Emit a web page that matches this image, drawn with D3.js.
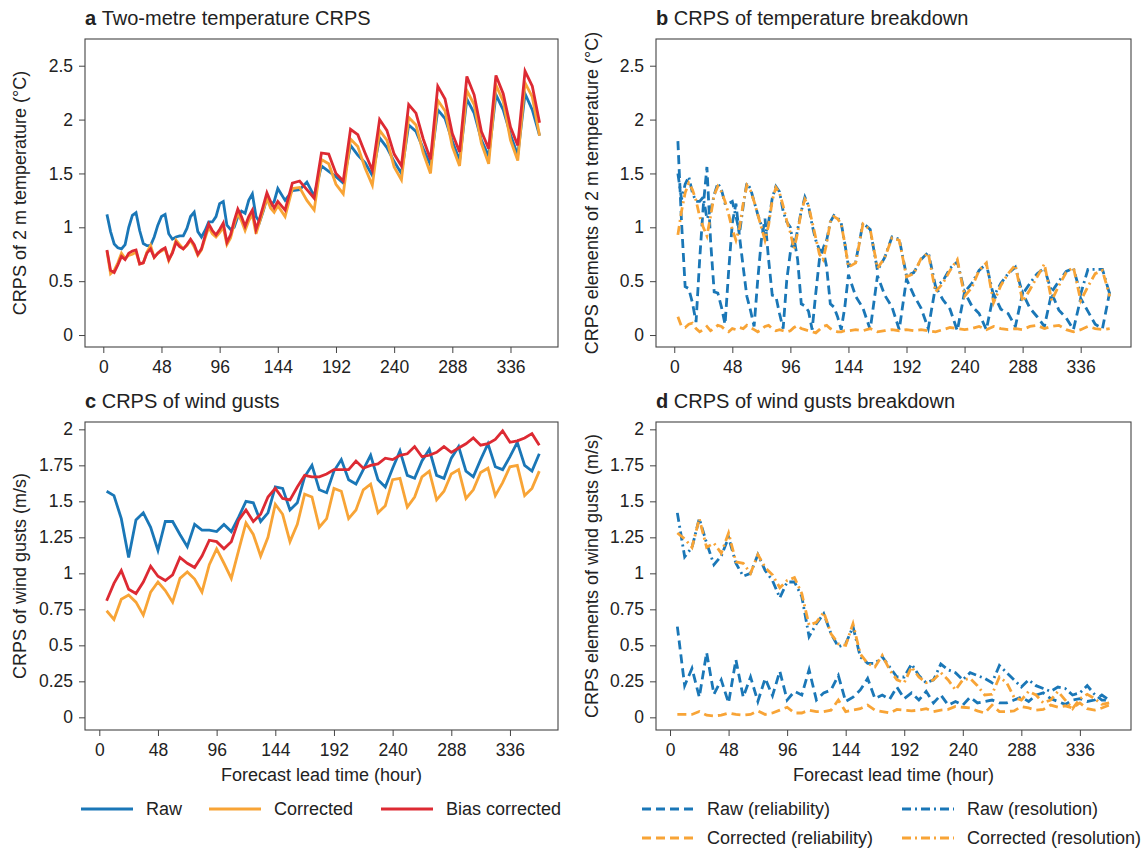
<!DOCTYPE html>
<html>
<head>
<meta charset="utf-8">
<script src="https://cdn.jsdelivr.net/npm/d3@7"></script>
<style>
  body { margin: 0; background: #fff; }
  text { font-family: "Liberation Sans", Arial, sans-serif; fill: #222; }
</style>
</head>
<body>
<svg id="chart" width="1148" height="852"></svg>
<script>

// lead times: 3-hourly up to 144 h, 6-hourly after (temperature); 6-hourly for gusts
var tempHours = [3,6,9,12,15,18,21,24,27,30,33,36,39,42,45,48,51,54,57,60,63,66,69,72,75,78,81,84,87,90,93,96,99,102,105,108,111,114,117,120,123,126,129,132,135,138,141,144,
  150,156,162,168,174,180,186,192,198,204,210,216,222,228,234,240,246,252,258,264,270,276,282,288,294,300,306,312,318,324,330,336,342,348,354,360];
var gustHours = [6,12,18,24,30,36,42,48,54,60,66,72,78,84,90,96,102,108,114,120,126,132,138,144,150,156,162,168,174,180,
  186,192,198,204,210,216,222,228,234,240,246,252,258,264,270,276,282,288,294,300,306,312,318,324,330,336,342,348,354,360];

var hourTicks = [0, 48, 96, 144, 192, 240, 288, 336];
var tempTicks = [0, 0.5, 1, 1.5, 2, 2.5];
var gustTicks = [0, 0.25, 0.5, 0.75, 1, 1.25, 1.5, 1.75, 2];

// a: 2 m temperature CRPS
var tempRaw = [1.12,0.96,0.845,0.81,0.80,0.84,1.00,1.11,1.135,0.97,0.85,0.83,0.83,0.91,1.02,1.10,1.12,0.94,0.89,0.91,0.92,0.92,0.99,1.10,
  1.14,0.96,0.91,0.97,1.05,1.05,1.10,1.22,1.24,1.02,0.98,1.00,1.10,1.15,1.13,1.25,1.31,1.10,1.05,1.15,1.27,1.20,1.24,1.36,
  1.25,1.34,1.35,1.42,1.29,1.57,1.52,1.47,1.41,1.76,1.67,1.60,1.48,1.83,1.74,1.61,1.50,1.95,1.89,1.73,1.58,2.09,2.01,1.80,1.62,
  2.19,2.06,1.81,1.66,2.23,2.09,1.86,1.67,2.24,2.09,1.85];
var tempCorrected = [0.78,0.57,0.60,0.67,0.76,0.71,0.74,0.75,0.77,0.66,0.67,0.77,0.83,0.72,0.76,0.78,0.80,0.69,0.77,0.88,0.84,0.80,0.83,0.88,
  0.82,0.74,0.79,0.90,1.00,0.94,0.91,0.95,1.00,0.84,0.90,1.03,1.13,1.06,0.97,1.06,1.12,0.94,1.05,1.16,1.27,1.18,1.14,1.20,
  1.10,1.36,1.37,1.25,1.16,1.63,1.59,1.40,1.31,1.82,1.75,1.55,1.39,1.90,1.81,1.56,1.44,2.02,1.95,1.69,1.50,2.18,2.08,1.75,1.57,
  2.27,2.14,1.78,1.59,2.32,2.17,1.81,1.62,2.34,2.21,1.85];
var tempBias = [0.79,0.60,0.58,0.65,0.73,0.70,0.76,0.78,0.79,0.66,0.67,0.76,0.80,0.72,0.76,0.79,0.81,0.70,0.76,0.86,0.82,0.80,0.84,0.89,
  0.84,0.75,0.80,0.92,1.03,0.97,0.93,0.98,1.04,0.86,0.93,1.06,1.17,1.10,1.01,1.10,1.16,0.98,1.08,1.20,1.32,1.24,1.18,1.24,
  1.16,1.41,1.43,1.35,1.27,1.69,1.68,1.50,1.43,1.91,1.86,1.69,1.53,2.00,1.90,1.68,1.57,2.14,2.06,1.82,1.63,2.31,2.19,1.87,1.70,
  2.40,2.23,1.89,1.73,2.41,2.24,1.93,1.76,2.45,2.31,1.97];

// b: temperature CRPS breakdown
var tempRawRel = [1.80,1.05,0.45,0.43,0.30,0.12,0.70,1.20,1.56,0.88,0.40,0.39,0.26,0.10,0.60,1.04,1.22,0.91,0.63,0.36,0.23,0.08,0.51,0.88,
  1.08,0.70,0.37,0.36,0.20,0.06,0.51,0.77,0.90,0.70,0.29,0.27,0.22,0.05,0.39,0.70,0.80,0.63,0.29,0.26,0.17,0.05,0.26,0.56,
  0.36,0.25,0.05,0.55,0.37,0.26,0.05,0.52,0.37,0.25,0.06,0.45,0.33,0.24,0.04,0.40,0.27,0.20,0.05,0.38,0.24,0.20,0.08,0.39,0.25,
  0.17,0.08,0.39,0.23,0.16,0.05,0.34,0.22,0.10,0.06,0.40];
var tempRawRes = [1.50,1.26,1.40,1.47,1.32,1.24,1.24,1.28,1.08,1.15,1.30,1.41,1.35,1.22,1.22,1.24,1.10,0.95,1.20,1.41,1.36,1.24,1.12,1.02,
  0.92,1.05,1.27,1.38,1.33,1.15,1.05,1.00,0.80,0.98,1.15,1.28,1.20,1.02,0.88,0.79,0.78,0.88,1.05,1.11,1.09,1.04,0.85,0.64,
  0.68,1.04,0.98,0.60,0.72,0.91,0.89,0.55,0.58,0.70,0.77,0.45,0.50,0.62,0.68,0.40,0.48,0.60,0.66,0.36,0.48,0.57,0.63,0.38,0.48,
  0.57,0.62,0.40,0.50,0.59,0.62,0.38,0.61,0.61,0.61,0.38];
var tempCorRel = [0.17,0.08,0.07,0.10,0.11,0.06,0.03,0.05,0.08,0.04,0.06,0.09,0.08,0.05,0.03,0.06,0.05,0.07,0.06,0.09,0.07,0.05,0.03,0.05,
  0.08,0.09,0.06,0.04,0.05,0.04,0.03,0.04,0.07,0.09,0.06,0.05,0.04,0.03,0.02,0.05,0.08,0.09,0.06,0.04,0.03,0.03,0.04,0.04,
  0.05,0.04,0.06,0.03,0.04,0.05,0.04,0.05,0.04,0.05,0.04,0.03,0.05,0.07,0.06,0.05,0.06,0.08,0.05,0.08,0.06,0.05,0.06,0.05,0.08,
  0.09,0.06,0.08,0.09,0.05,0.03,0.05,0.08,0.06,0.05,0.06];
var tempCorRes = [0.93,1.15,1.32,1.41,1.35,1.25,1.10,1.00,0.92,1.10,1.30,1.38,1.33,1.24,1.12,0.98,0.88,1.00,1.22,1.39,1.34,1.24,1.12,1.00,
  0.88,1.02,1.25,1.37,1.32,1.20,1.06,0.95,0.80,0.95,1.15,1.26,1.20,1.05,0.90,0.75,0.70,0.85,1.05,1.10,1.08,1.03,0.85,0.63,
  0.67,1.03,0.98,0.62,0.72,0.90,0.88,0.54,0.57,0.71,0.76,0.40,0.48,0.60,0.70,0.36,0.44,0.60,0.67,0.30,0.46,0.57,0.65,0.31,0.42,
  0.54,0.66,0.32,0.46,0.58,0.63,0.32,0.45,0.57,0.60,0.36];

// c: wind gust CRPS
var gustRaw = [1.57,1.54,1.38,1.11,1.37,1.42,1.32,1.16,1.36,1.36,1.27,1.185,1.34,1.30,1.30,1.29,1.34,1.29,1.39,1.50,
  1.49,1.36,1.42,1.60,1.59,1.44,1.49,1.67,1.75,1.58,1.56,1.71,1.79,1.65,1.62,1.72,1.82,1.65,1.60,1.73,
  1.85,1.68,1.66,1.78,1.86,1.68,1.66,1.80,1.88,1.71,1.67,1.79,1.90,1.74,1.72,1.81,1.91,1.75,1.71,1.83];
var gustCorrected = [0.74,0.68,0.82,0.85,0.80,0.71,0.87,0.94,0.88,0.80,0.965,1.01,0.96,0.87,1.06,1.17,1.07,0.965,1.16,1.35,
  1.27,1.12,1.25,1.48,1.41,1.22,1.34,1.55,1.53,1.32,1.38,1.59,1.57,1.38,1.44,1.58,1.62,1.42,1.47,1.65,
  1.66,1.46,1.53,1.67,1.71,1.51,1.57,1.69,1.72,1.52,1.58,1.70,1.73,1.54,1.63,1.74,1.75,1.54,1.59,1.71];
var gustBias = [0.81,0.93,1.02,0.89,0.86,0.94,1.05,0.98,0.95,0.99,1.11,1.07,1.04,1.12,1.23,1.22,1.17,1.22,1.37,1.44,
  1.36,1.41,1.53,1.59,1.52,1.51,1.60,1.68,1.67,1.67,1.69,1.72,1.72,1.72,1.78,1.73,1.75,1.76,1.80,1.79,
  1.82,1.83,1.88,1.81,1.82,1.84,1.88,1.84,1.87,1.90,1.94,1.89,1.90,1.93,1.99,1.91,1.92,1.94,1.97,1.89];

// d: wind gust CRPS breakdown
var gustRawRel = [0.63,0.22,0.34,0.14,0.45,0.16,0.26,0.10,0.40,0.14,0.28,0.11,0.27,0.15,0.32,0.12,0.18,0.155,0.33,0.12,
  0.17,0.19,0.29,0.11,0.14,0.19,0.27,0.13,0.155,0.125,0.21,0.13,0.17,0.12,0.18,0.10,0.155,0.085,0.11,0.085,
  0.14,0.10,0.11,0.12,0.10,0.10,0.12,0.14,0.11,0.155,0.17,0.13,0.11,0.09,0.12,0.13,0.11,0.12,0.155,0.12];
var gustRawRes = [1.42,1.115,1.18,1.38,1.21,1.06,1.12,1.25,1.07,0.98,1.00,1.13,1.02,0.95,0.83,0.94,0.94,0.84,0.56,0.65,
  0.72,0.58,0.49,0.51,0.63,0.42,0.375,0.375,0.42,0.35,0.28,0.28,0.37,0.29,0.24,0.26,0.37,0.33,0.31,0.26,
  0.31,0.29,0.27,0.24,0.36,0.31,0.26,0.21,0.26,0.22,0.20,0.18,0.21,0.20,0.155,0.17,0.22,0.16,0.12,0.12];
var gustCorRel = [0.02,0.02,0.02,0.04,0.015,0.01,0.015,0.03,0.02,0.015,0.02,0.045,0.02,0.03,0.05,0.07,0.03,0.03,0.05,0.04,
  0.04,0.05,0.12,0.04,0.05,0.06,0.085,0.05,0.04,0.03,0.055,0.05,0.045,0.05,0.06,0.04,0.05,0.055,0.075,0.07,
  0.065,0.045,0.03,0.085,0.04,0.04,0.045,0.075,0.065,0.05,0.055,0.085,0.07,0.08,0.065,0.10,0.06,0.05,0.065,0.085];
var gustCorRes = [1.28,1.24,1.18,1.38,1.18,1.21,1.14,1.28,1.08,1.07,1.00,1.13,1.04,0.99,0.90,0.95,0.97,0.86,0.64,0.66,
  0.73,0.58,0.51,0.50,0.65,0.44,0.375,0.35,0.43,0.33,0.26,0.24,0.35,0.28,0.24,0.26,0.31,0.26,0.19,0.26,
  0.27,0.22,0.155,0.16,0.28,0.24,0.14,0.12,0.18,0.155,0.10,0.12,0.18,0.12,0.06,0.13,0.16,0.13,0.09,0.10];

var blue = "#1a77b7", orange = "#f8a436", red = "#dd2a33";
var dashed = "9,5", dashDot = "9,4,2,4";

var svg = d3.select("#chart");

var panels = [
  {letter: "a", title: "Two-metre temperature CRPS", box: [85, 39, 558, 347], xdom: [-15.1, 375.2], ydom: [-0.111, 2.748],
   yticks: tempTicks, ylabel: "CRPS of 2 m temperature (\u00b0C)", labelX: 20, hours: tempHours,
   series: [{v: tempRaw, c: blue}, {v: tempCorrected, c: orange}, {v: tempBias, c: red}]},
  {letter: "b", title: "CRPS of temperature breakdown", box: [656, 39, 1131, 347], xdom: [-15.1, 377.6], ydom: [-0.111, 2.748],
   yticks: tempTicks, ylabel: "CRPS elements of 2 m temperature (\u00b0C)", labelX: 592, hours: tempHours,
   series: [{v: tempRawRel, c: blue, d: dashed}, {v: tempRawRes, c: blue, d: dashDot},
            {v: tempCorRel, c: orange, d: dashed}, {v: tempCorRes, c: orange, d: dashDot}]},
  {letter: "c", title: "CRPS of wind gusts", box: [85, 422, 558, 730], xdom: [-11.7, 375.3], ydom: [-0.088, 2.051],
   yticks: gustTicks, ylabel: "CRPS of wind gusts (m/s)", labelX: 20, hours: gustHours, xlabel: true,
   series: [{v: gustRaw, c: blue}, {v: gustCorrected, c: orange}, {v: gustBias, c: red}]},
  {letter: "d", title: "CRPS of wind gusts breakdown", box: [656, 422, 1131, 730], xdom: [-11.5, 377.9], ydom: [-0.088, 2.051],
   yticks: gustTicks, ylabel: "CRPS elements of wind gusts (m/s)", labelX: 592, hours: gustHours, xlabel: true,
   series: [{v: gustRawRel, c: blue, d: dashed}, {v: gustRawRes, c: blue, d: dashDot},
            {v: gustCorRel, c: orange, d: dashed}, {v: gustCorRes, c: orange, d: dashDot}]}
];

panels.forEach(drawPanel);

function styleAxis(g) {
  g.select(".domain").remove();
  g.selectAll(".tick line").attr("stroke", "#444");
  g.selectAll(".tick text").attr("font-size", "17.5px").attr("fill", "#222");
}

function drawPanel(p) {
  var x = d3.scaleLinear().domain(p.xdom).range([p.box[0], p.box[2]]);
  var y = d3.scaleLinear().domain(p.ydom).range([p.box[3], p.box[1]]);
  var g = svg.append("g");

  g.append("g")
    .attr("transform", `translate(0,${p.box[3]})`)
    .call(d3.axisBottom(x).tickValues(hourTicks).tickSize(6).tickPadding(8).tickFormat(d3.format("d")))
    .call(styleAxis);

  g.append("g")
    .attr("transform", `translate(${p.box[0]},0)`)
    .call(d3.axisLeft(y).tickValues(p.yticks).tickSize(6).tickPadding(6).tickFormat(d => String(d)))
    .call(styleAxis);

  var line = d3.line()
    .x((d, i) => x(p.hours[i]))
    .y(d => y(d));

  g.selectAll("path.series")
    .data(p.series)
    .enter().append("path")
    .attr("class", "series")
    .attr("fill", "none")
    .attr("stroke", s => s.c)
    .attr("stroke-width", 2.8)
    .attr("stroke-dasharray", s => s.d || null)
    .attr("d", s => line(s.v));

  g.append("rect")
    .attr("x", p.box[0]).attr("y", p.box[1])
    .attr("width", p.box[2] - p.box[0]).attr("height", p.box[3] - p.box[1])
    .attr("fill", "none").attr("stroke", "#444").attr("stroke-width", 1.1);

  var t = g.append("text")
    .attr("x", p.box[0]).attr("y", p.box[1] - 14)
    .attr("font-size", "20px");
  t.append("tspan").attr("font-weight", "bold").text(p.letter + " ");
  t.append("tspan").text(p.title);

  g.append("text")
    .attr("transform", `translate(${p.labelX},${(p.box[1] + p.box[3]) / 2}) rotate(-90)`)
    .attr("text-anchor", "middle")
    .attr("dy", "0.35em")
    .attr("font-size", "18px")
    .text(p.ylabel);

  if (p.xlabel) {
    g.append("text")
      .attr("x", (p.box[0] + p.box[2]) / 2)
      .attr("y", p.box[3] + 51)
      .attr("text-anchor", "middle")
      .attr("font-size", "18px")
      .text("Forecast lead time (hour)");
  }
}

// legends
var legendItems = [
  {label: "Raw", c: blue, x: 81, y: 809},
  {label: "Corrected", c: orange, x: 209, y: 809},
  {label: "Bias corrected", c: red, x: 381, y: 809},
  {label: "Raw (reliability)", c: blue, d: dashed, x: 642, y: 809},
  {label: "Raw (resolution)", c: blue, d: dashDot, x: 902, y: 809},
  {label: "Corrected (reliability)", c: orange, d: dashed, x: 642, y: 838},
  {label: "Corrected (resolution)", c: orange, d: dashDot, x: 902, y: 838}
];

var leg = svg.append("g").selectAll("g")
  .data(legendItems)
  .enter().append("g")
  .attr("transform", d => `translate(${d.x},${d.y})`);

leg.append("line")
  .attr("x1", 0).attr("x2", 52)
  .attr("stroke", d => d.c)
  .attr("stroke-width", 2.8)
  .attr("stroke-dasharray", d => d.d || null);

leg.append("text")
  .attr("x", 65)
  .attr("dy", "0.35em")
  .attr("font-size", "18px")
  .text(d => d.label);

</script>
</body>
</html>
